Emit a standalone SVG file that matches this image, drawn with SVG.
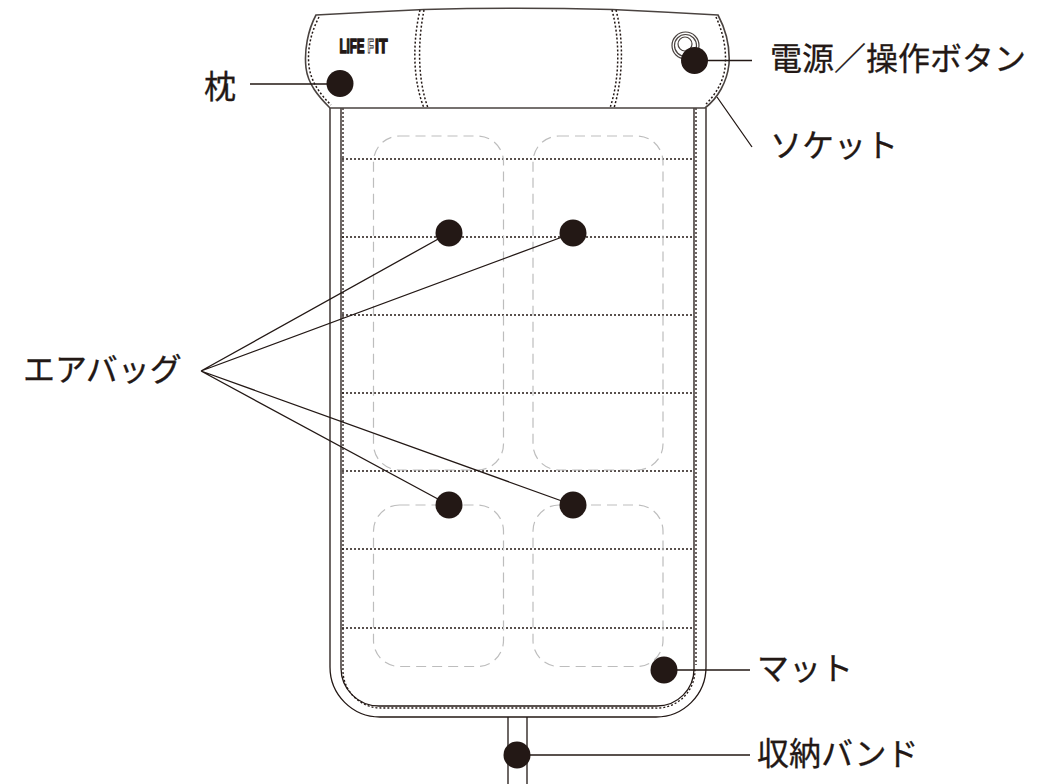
<svg xmlns="http://www.w3.org/2000/svg" width="1052" height="784" viewBox="0 0 1052 784">
<style>
.s{fill:none;stroke:#4a4340;stroke-width:1.6}
.k{fill:none;stroke:#231815;stroke-width:1.3}
.d{fill:none;stroke:#231815;stroke-width:1.3;stroke-dasharray:2 2}
.h{fill:none;stroke:#231815;stroke-width:1.500;stroke-dasharray:2 2}
.a{fill:none;stroke:#bdbdbd;stroke-width:1.2;stroke-dasharray:10 6}
.r{fill:none;stroke:#4a4340;stroke-width:1.200}
.dot{fill:#231815}
.t{font-family:"Noto Sans CJK JP","Noto Sans",sans-serif;font-size:32px;fill:#231815;stroke:#231815;stroke-width:.3}
.l{font-family:"Liberation Sans",sans-serif;font-weight:700;font-size:20px;fill:#231815;stroke:#231815;stroke-width:1.500}
</style>
<rect width="1052" height="784" fill="#fff"/>
<g id="band"><path class="s" d="M508 717V784M527 717V784"/></g>
<g id="mat">
<path class="k" d="M330 108V667A50 50 0 0 0 380 717H656A50 50 0 0 0 706 667V108"/>
<path class="k" d="M341 108V668A38 38 0 0 0 379 706H657A37 37 0 0 0 694 669V108"/>
<path class="d" d="M343 108V668A38 38 0 0 0 381 708H655A38 38 0 0 0 695 670"/>
<path class="d" d="M696 108V665"/>
<path class="d" d="M342 159H694M342 237H694M342 315H694M342 393H694M342 471H694M342 549H694M342 628H694"/>
</g>
<g id="airbags">
<rect class="a" x="373.500" y="136" width="130" height="334" rx="26"/>
<rect class="a" x="533" y="136" width="130" height="334" rx="26"/>
<rect class="a" x="373.500" y="505" width="130" height="161.500" rx="26"/>
<rect class="a" x="533" y="505" width="130" height="161.500" rx="26"/>
</g>
<g id="pillow">
<path d="M316 15Q370 12 424 9.500Q516 7 612 9.500Q666 12 718 15C726 30 730 48 729 64C727 82 718 98 705 108H330C318 96 308 84 306 68C304 50 308 30 316 15Z" fill="#fff" stroke="#4a4340" stroke-width="1.6"/>
<path class="h" d="M319 17C311 32 307 50 309 66C311 82 320 94 331 105"/>
<path class="h" d="M716 17C723 32 727 50 725 68C723 82 716 94 706 104"/>
<path class="h" d="M420 10C413 40 412 78 424 108M424 10C418 40 417 78 428 108"/>
<path class="h" d="M612 10C620 40 620 78 610 108M616 10C624 40 623 78 614 108"/>
<text class="l" transform="translate(339.500 52.500) scale(.58 1)">LIFE</text>
<text class="l" transform="translate(367.500 52.500) scale(.52 1)" style="fill:#fff;stroke-width:1">F</text>
<text class="l" transform="translate(375 52.500) scale(.7 1)">IT</text>
<circle class="r" cx="685.500" cy="45.500" r="13.500"/>
<circle class="r" cx="685.500" cy="45.500" r="11"/>
<circle class="r" cx="685" cy="44" r="7"/>
</g>
<g id="connectors">
<path class="k" d="M250 84H340M695 60.500H752M717 97L752 147M201 371L449 233M201 371L573 233M201 371L449 505M201 371L573 505M664 670H750M517 755H750"/>
</g>
<g id="dots">
<circle class="dot" cx="340" cy="83.500" r="13.500"/>
<circle class="dot" cx="694.500" cy="60.500" r="13.500"/>
<circle class="dot" cx="449" cy="233" r="13.500"/>
<circle class="dot" cx="573" cy="233" r="13.500"/>
<circle class="dot" cx="449" cy="505" r="13.500"/>
<circle class="dot" cx="573" cy="505" r="13.500"/>
<circle class="dot" cx="664" cy="670" r="13.500"/>
<circle class="dot" cx="517" cy="755" r="13.500"/>
</g>
<g id="labels">
<text class="t" x="204" y="98">枕</text>
<text class="t" x="770" y="70">電源／操作ボタン</text>
<text class="t" x="770" y="157">ソケット</text>
<text class="t" x="23" y="381">エアバッグ</text>
<text class="t" x="757" y="680">マット</text>
<text class="t" x="757" y="765">収納バンド</text>
</g>
</svg>
